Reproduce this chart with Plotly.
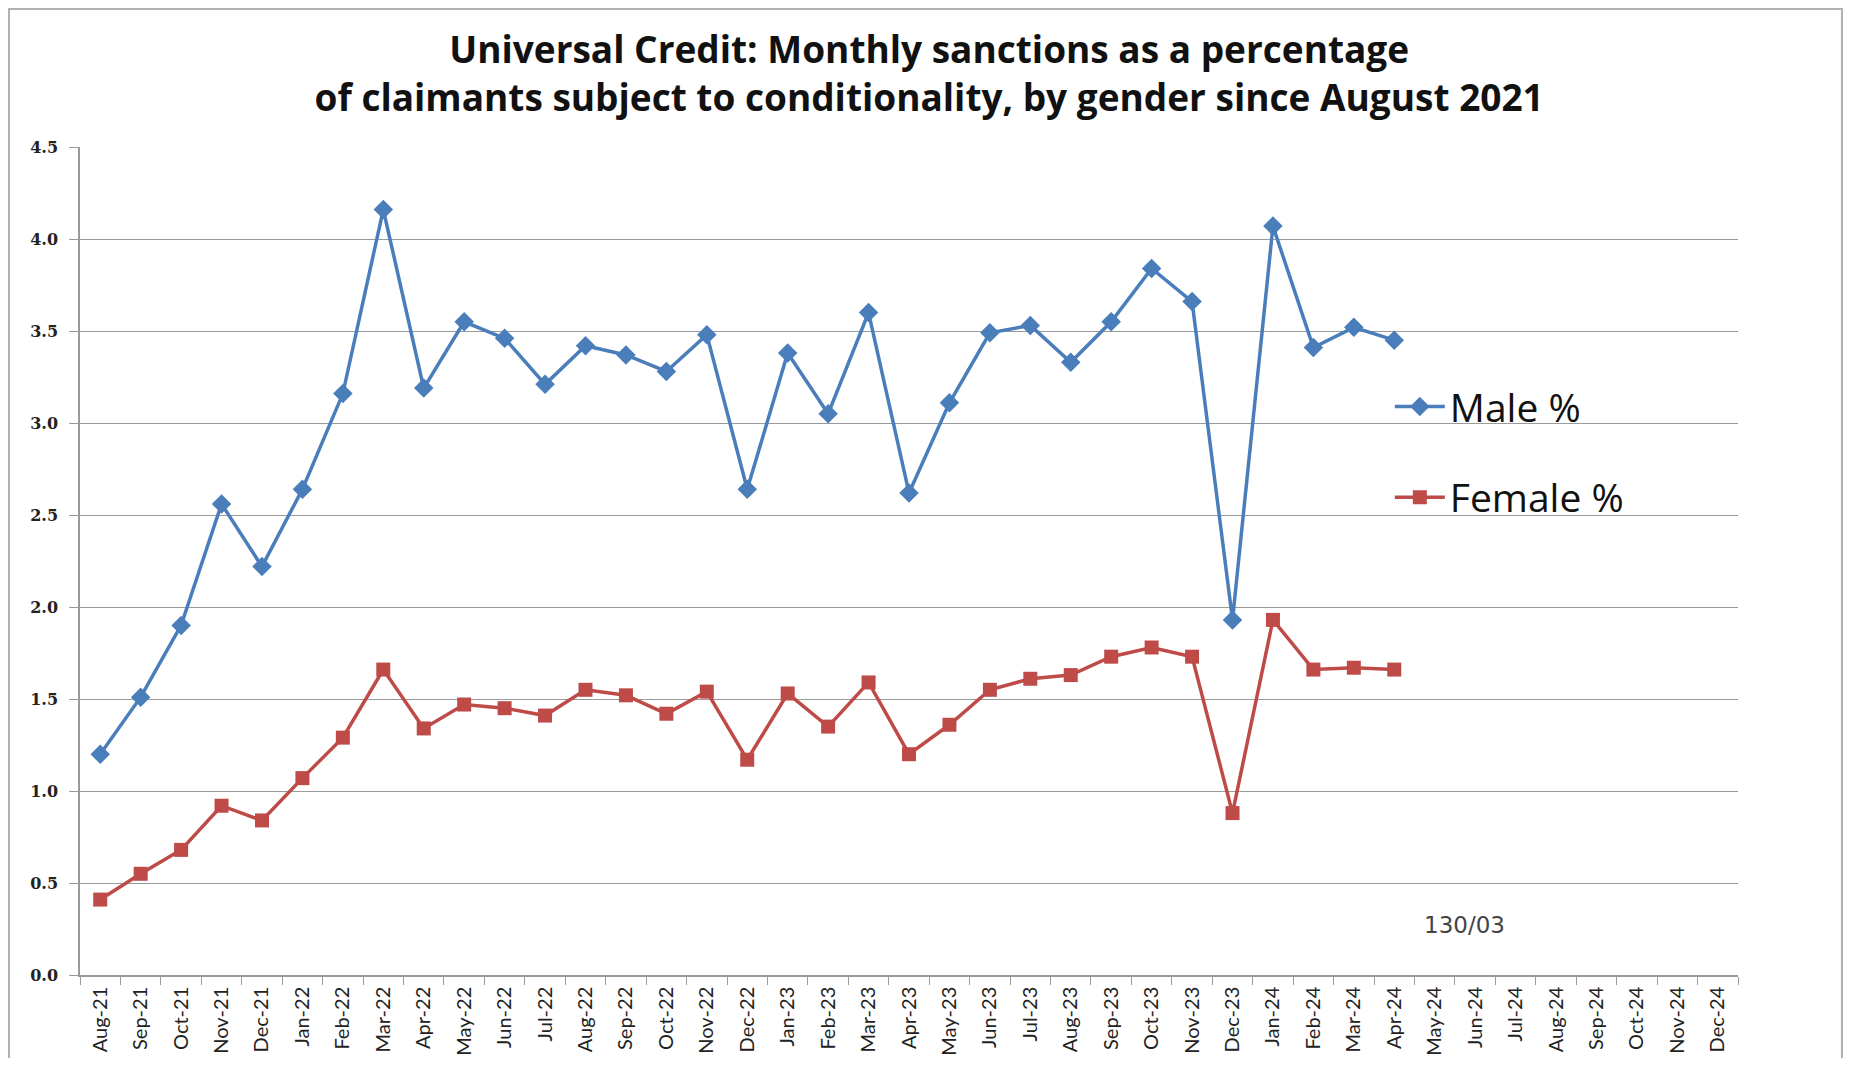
import plotly.graph_objects as go

months = ['Aug-21', 'Sep-21', 'Oct-21', 'Nov-21', 'Dec-21',
          'Jan-22', 'Feb-22', 'Mar-22', 'Apr-22', 'May-22', 'Jun-22',
          'Jul-22', 'Aug-22', 'Sep-22', 'Oct-22', 'Nov-22', 'Dec-22',
          'Jan-23', 'Feb-23', 'Mar-23', 'Apr-23', 'May-23', 'Jun-23',
          'Jul-23', 'Aug-23', 'Sep-23', 'Oct-23', 'Nov-23', 'Dec-23',
          'Jan-24', 'Feb-24', 'Mar-24', 'Apr-24', 'May-24', 'Jun-24',
          'Jul-24', 'Aug-24', 'Sep-24', 'Oct-24', 'Nov-24', 'Dec-24']

male_pct = [1.20, 1.51, 1.90, 2.56, 2.22, 2.64, 3.16, 4.16, 3.19, 3.55,
            3.46, 3.21, 3.42, 3.37, 3.28, 3.48, 2.64, 3.38, 3.05, 3.60,
            2.62, 3.11, 3.49, 3.53, 3.33, 3.55, 3.84, 3.66, 1.93, 4.07,
            3.41, 3.52, 3.45]

female_pct = [0.41, 0.55, 0.68, 0.92, 0.84, 1.07, 1.29, 1.66, 1.34, 1.47,
              1.45, 1.41, 1.55, 1.52, 1.42, 1.54, 1.17, 1.53, 1.35, 1.59,
              1.20, 1.36, 1.55, 1.61, 1.63, 1.73, 1.78, 1.73, 0.88, 1.93,
              1.66, 1.67, 1.66]

BLUE = '#4A7EBB'
RED = '#BE4B48'
GRID = '#9a9a9a'

fig = go.Figure()

fig.add_trace(go.Scatter(
    x=months[:len(male_pct)],
    y=male_pct,
    mode='lines+markers',
    name='Male %',
    legendgroup='male',
    line=dict(color=BLUE, width=3.5),
    marker=dict(symbol='diamond', size=15, color=BLUE)
))

fig.add_trace(go.Scatter(
    x=months[:len(female_pct)],
    y=female_pct,
    mode='lines+markers',
    name='Female %',
    legendgroup='female',
    line=dict(color=RED, width=3.5),
    marker=dict(symbol='square', size=14, color=RED)
))

# outer chart border, like the Excel chart frame
fig.add_shape(type='rect', xref='paper', yref='paper',
              x0=-0.0428, x1=1.0627, y0=-0.25, y1=1.1667,
              line=dict(color='#b0b0b0', width=2), layer='below')

fig.add_annotation(text='130/03', xref='paper', yref='paper',
                   x=0.835, y=0.06, showarrow=False,
                   xanchor='center', yanchor='middle',
                   font=dict(family='DejaVu Sans', size=23, color='#444444'))

# the page body has an 8px margin, so the figure is sized to fit inside it
fig.update_layout(
    width=1835, height=1050,
    margin=dict(l=72, r=105, t=139, b=83),
    paper_bgcolor='white',
    plot_bgcolor='white',
    title=dict(
        text='<b>Universal Credit: Monthly sanctions as a percentage<br>'
             'of claimants subject to conditionality, by gender since August 2021</b>',
        x=0.502, xref='container', xanchor='center', y=0.948, yanchor='middle',
        font=dict(family='Open Sans', size=37, color='#111111')
    ),
    legend=dict(
        x=0.79, y=0.725, xanchor='left', yanchor='top',
        traceorder='grouped', tracegroupgap=37,
        bgcolor='rgba(0,0,0,0)',
        font=dict(family='Open Sans', size=39, color='#111111'),
        itemwidth=50
    ),
    showlegend=True,
    font=dict(family='DejaVu Sans', size=14, color='#222222')
)

fig.update_xaxes(
    type='category',
    categoryorder='array', categoryarray=months,
    tickmode='array', tickvals=months, ticktext=months,
    range=[-0.5, len(months) - 0.5],
    tickangle=-90,
    tickson='boundaries',
    ticks='outside', ticklen=8, tickcolor=GRID,
    ticklabelstandoff=2,
    automargin=False,
    showline=True, linecolor=GRID, linewidth=1.5,
    showgrid=False,
    tickfont=dict(family='Lato', size=20, color='#222222')
)

fig.update_yaxes(
    range=[0, 4.5], dtick=0.5, tickformat='.1f',
    ticks='outside', ticklen=9, tickcolor=GRID,
    ticklabelstandoff=8,
    automargin=False,
    showline=True, linecolor=GRID, linewidth=1.5,
    showgrid=True, gridcolor=GRID, gridwidth=1,
    zeroline=False,
    tickfont=dict(family='DejaVu Serif', size=16, color='#222222', weight='bold')
)

fig.write_html("out.html")
